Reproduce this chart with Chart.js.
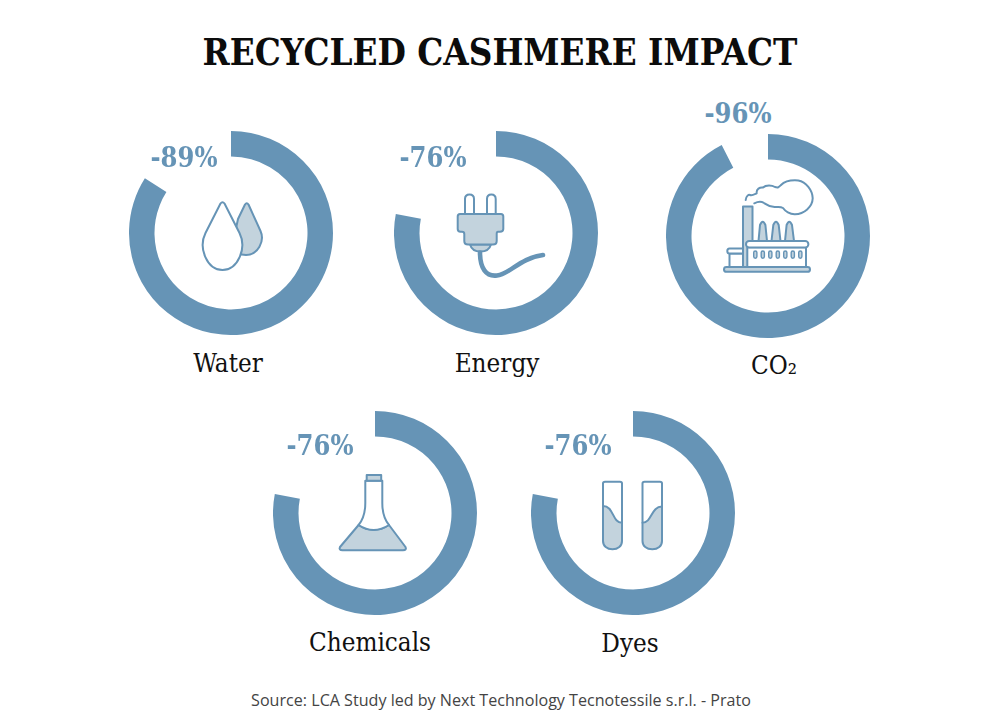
<!DOCTYPE html>
<html><head><meta charset="utf-8">
<script src="https://cdn.jsdelivr.net/npm/chart.js@4"></script>
<style>
html,body{margin:0;padding:0;background:#fff;}
#stage{position:relative;width:1000px;height:727px;overflow:hidden;}
canvas{position:absolute;}
.t{position:absolute;transform:translate(-50%,-50%);white-space:nowrap;line-height:1;}
.title{font:bold 36.4px 'DejaVu Serif Condensed','DejaVu Serif',serif;color:#0c0c0c;}
.pct{font:bold 27px 'DejaVu Serif Condensed','DejaVu Serif',serif;color:#6694b6;}
.lab{font:25.8px 'DejaVu Serif Condensed','DejaVu Serif',serif;color:#111;}
.src{font:16.1px 'Open Sans',sans-serif;color:#444;}
svg{position:absolute;left:0;top:0;}
.o{fill:none;stroke:#6694b6;stroke-width:2;stroke-linejoin:round;stroke-linecap:round;}
.f{fill:#c3d3dd;stroke:#6694b6;stroke-width:2;stroke-linejoin:round;stroke-linecap:round;}
.w{fill:#fff;stroke:#6694b6;stroke-width:2;stroke-linejoin:round;stroke-linecap:round;}
</style></head><body>
<div id="stage">
<svg width="1000" height="727" viewBox="0 0 1000 727">
 <!-- water -->
 <path class="f" d="M245,204.5Q246.7,202 248.5,204.5L260.5,231C265,241 258,255 246,255C239,255 235,252 232,247L238,219Z"/>
 <path class="w" d="M220.5,203.5Q222.5,201 224.5,203.5L239.5,233C247,248 238,270 222.5,270C207,270 198,248 205.5,233Z"/>
 <!-- plug -->
 <path class="w" d="M465,214V199Q465,194.5 469.5,194.5Q474,194.5 474,199V214M487,214V199Q487,194.5 491.3,194.5Q495.7,194.5 495.7,199V214"/>
 <path class="f" d="M470,244.5Q472,251.5 480.5,251.5Q489,251.5 491,244.5Z"/>
 <path class="f" d="M460,214H501Q503.3,214 503.3,216.5V229Q503.3,231.7 500,231.7H498Q496.7,231.7 496.7,234V241Q496.7,244.5 493,244.5H468Q464.3,244.5 464.3,241V234Q464.3,231.7 462,231.7H460.5Q457.7,231.7 457.7,229V216.5Q457.7,214 460,214Z"/>
 <path d="M480,252.5C480,268 486,277 497,275.5C510,274 520,258 543,255" fill="none" stroke="#6694b6" stroke-width="4.6" stroke-linecap="round"/>
 <!-- factory -->
 <path class="o" d="M745.7,200C746,196 749,194 750,195C752,196 755,194 756.7,193.3C756,189 760,187 763,187.5C766,184.5 772,185 775,187C778.3,188 779,187 781,185C785,181 792,180 798.3,180.5C806,182 812.5,190 812.7,198.3C812.5,207 804,214 795,214.3C790,214.5 785,211 783,208C780,206 777,207.5 773.3,206.7C769,206.5 767,205 764,203C761,201 758,201.5 754.3,203.3"/>
 <path class="f" d="M743,267V206.5H752.5V267Z"/>
 <path class="f" d="M758.5,241L760,225Q762.7,218.5 765.4,225L767,241ZM771.5,241L773.3,225Q776,218.5 778.7,225L780.5,241ZM785,241L786.6,225Q789.3,218.5 792,225L794,241Z"/>
 <path class="w" d="M729.5,253.5V267H743V253.5Z"/>
 <path class="w" d="M729.5,248.5H743V253.5H729.5Q727.3,253.5 727.3,251Q727.3,248.5 729.5,248.5Z"/>
 <path class="w" d="M747.3,247.3V267H806V247.3Z"/>
 <rect class="w" x="746" y="241" width="62.4" height="6.4" rx="3.2"/>
 <g id="win"></g>
 <rect class="f" x="724" y="267" width="86" height="4.8" rx="2.4"/>
 <!-- flask -->
 <path class="f" d="M358.6,525Q373.5,535 389,525L405.5,547Q407,550.3 403,550.3H342.5Q338.5,550.3 340,547Z"/>
 <path class="w" d="M365.3,480.7H382.3V503C382.3,513 384,519 389,525Q373.5,535 358.6,525C363.5,519 365.3,513 365.3,503Z"/>
 <rect class="f" x="366.7" y="475" width="14.5" height="5.7"/>
 <!-- tubes -->
 <path class="f" d="M603,506C614,506 612,522.7 622,522.7V541C622,546 618,549.3 612.5,549.3C607,549.3 603,546 603,541Z"/>
 <path class="o" d="M603,506V483.5Q603,481.7 605,481.7H620Q622,481.7 622,483.5V522.7"/>
 <path class="f" d="M642.5,522.7C652,522.7 651,506.5 662,506.5V541C662,546 658,549.3 652.3,549.3C646.5,549.3 642.5,546 642.5,541Z"/>
 <path class="o" d="M642.5,522.7V483.5Q642.5,481.7 644.5,481.7H660Q662,481.7 662,483.5V506.5"/>
</svg>
</div>
<script>
// Top-level chart data
const categories = ["Water", "Energy", "CO₂", "Chemicals", "Dyes"];
const impactLabels = ["-89%", "-76%", "-96%", "-76%", "-76%"];
const drawnShare = [84, 78, 92.5, 78, 78];
const ringCenterX = [231, 496, 768, 375, 633];
const ringCenterY = [233, 233, 236, 513, 513];
const pctX = [184, 433, 738, 320, 578];
const pctY = [157, 157, 113, 445, 445];
const labX = [228, 497, 774, 370, 630];
const labY = [363, 363, 365, 642, 643];
const windowX = [755.3, 762.8, 770.3, 777.8, 785.3, 792.8, 800.3];
const ringColor = "#6694b6";
const ringSize = 204;

const stage = document.getElementById("stage");
function addText(cls, text, x, y) {
  const d = document.createElement("div");
  d.className = "t " + cls;
  d.textContent = text;
  d.style.left = x + "px";
  d.style.top = y + "px";
  stage.appendChild(d);
}
const NS = "http://www.w3.org/2000/svg";
const win = document.getElementById("win");
windowX.forEach(x => {
  const r = document.createElementNS(NS, "rect");
  r.setAttribute("class", "f");
  r.setAttribute("x", x - 1.6);
  r.setAttribute("y", 251);
  r.setAttribute("width", 3.2);
  r.setAttribute("height", 7.2);
  r.setAttribute("rx", 1.6);
  r.style.strokeWidth = "1.4";
  win.appendChild(r);
});
addText("title", "RECYCLED CASHMERE IMPACT", 500, 52);
addText("src", "Source: LCA Study led by Next Technology Tecnotessile s.r.l. - Prato", 501, 700);

categories.forEach((name, i) => {
  const c = document.createElement("canvas");
  c.width = ringSize; c.height = ringSize;
  c.style.left = (ringCenterX[i] - ringSize / 2) + "px";
  c.style.top = (ringCenterY[i] - ringSize / 2) + "px";
  c.style.width = ringSize + "px"; c.style.height = ringSize + "px";
  stage.appendChild(c);
  new Chart(c, {
    type: "doughnut",
    data: {
      labels: [name, ""],
      datasets: [{
        data: [drawnShare[i], 100 - drawnShare[i]],
        backgroundColor: [ringColor, "rgba(0,0,0,0)"],
        borderWidth: 0
      }]
    },
    options: {
      responsive: false,
      animation: false,
      cutout: "75%",
      rotation: 0,
      layout: { padding: 0 },
      plugins: { legend: { display: false }, tooltip: { enabled: false }, title: { display: false } }
    }
  });
  addText("pct", impactLabels[i], pctX[i], pctY[i]);
  addText("lab", name, labX[i], labY[i]);
});
</script>
</body></html>
